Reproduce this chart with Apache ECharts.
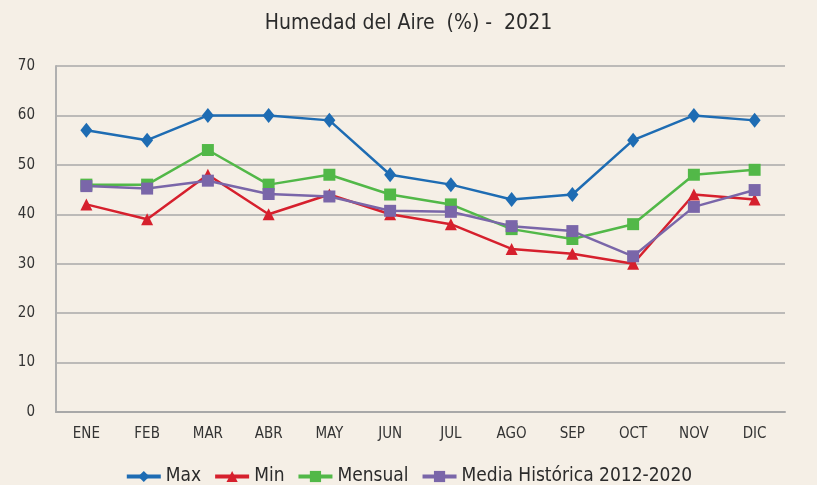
<!DOCTYPE html>
<html>
<head>
<meta charset="utf-8">
<script src="https://cdn.jsdelivr.net/npm/echarts@6/dist/echarts.min.js"></script>
<style>
  html, body { margin: 0; padding: 0; background: #f5efe6; }
  #chart { width: 817px; height: 485px; }
</style>
</head>
<body>
<div id="chart"></div>
<script>
// datos
var meses = ['ENE', 'FEB', 'MAR', 'ABR', 'MAY', 'JUN', 'JUL', 'AGO', 'SEP', 'OCT', 'NOV', 'DIC'];
var maxVals = [57, 55, 60, 60, 59, 48, 46, 43, 44, 55, 60, 59];
var minVals = [42, 39, 48, 40, 44, 40, 38, 33, 32, 30, 44, 43];
var mensualVals = [46, 46, 53, 46, 48, 44, 42, 37, 35, 38, 48, 49];
var mediaVals = [45.7, 45.2, 46.8, 44.1, 43.6, 40.7, 40.5, 37.6, 36.6, 31.5, 41.5, 44.9];
var yTicks = [0, 10, 20, 30, 40, 50, 60, 70];

var fuente = '"Liberation Sans Narrow", "DejaVu Sans Condensed", sans-serif';

function serie(nombre, datos, color, simbolo, tam) {
    return {
        name: nombre,
        type: 'line',
        data: datos,
        symbol: simbolo,
        symbolSize: tam,
        showAllSymbol: true,
        lineStyle: { color: color, width: 2.5 },
        itemStyle: { color: color },
        emphasis: { disabled: true }
    };
}

var myChart = echarts.init(document.getElementById('chart'));
var option = {
    backgroundColor: '#f5efe6',
    animation: false,
    title: {
        text: 'Humedad del Aire  (%) -  2021',
        left: 'center',
        top: 8,
        textStyle: { fontFamily: fuente, fontSize: 21, fontWeight: 'normal', color: '#2b2b2b' }
    },
    grid: { left: 56, right: 32, top: 66, bottom: 73 },
    legend: {
        top: 462,
        left: 'center',
        itemWidth: 34,
        itemHeight: 14,
        itemGap: 12,
        lineStyle: { width: 4 },
        textStyle: { fontFamily: fuente, fontSize: 19, color: '#2b2b2b' },
        data: ['Max', 'Min', 'Mensual', 'Media Histórica 2012-2020']
    },
    xAxis: {
        type: 'category',
        data: meses,
        axisLine: { lineStyle: { color: '#a8a8a8', width: 2 } },
        axisTick: { show: false },
        axisLabel: { fontFamily: fuente, fontSize: 15, color: '#333', margin: 15 }
    },
    yAxis: {
        type: 'value',
        min: yTicks[0],
        max: yTicks[yTicks.length - 1],
        interval: 10,
        axisLine: { show: true, lineStyle: { color: '#b0b0b0', width: 2 } },
        axisTick: { show: false },
        axisLabel: { fontFamily: fuente, fontSize: 15, color: '#333', margin: 21 },
        splitLine: { lineStyle: { color: '#a8a8a8', width: 1.5 } }
    },
    series: [
        serie('Max', maxVals, '#1e6cb3', 'diamond', [12, 15]),
        serie('Min', minVals, '#d6202d', 'triangle', [12, 12]),
        serie('Mensual', mensualVals, '#52b848', 'rect', [12, 12]),
        serie('Media Histórica 2012-2020', mediaVals, '#7a66a9', 'rect', [12, 12])
    ]
};
myChart.setOption(option);
</script>
</body>
</html>
